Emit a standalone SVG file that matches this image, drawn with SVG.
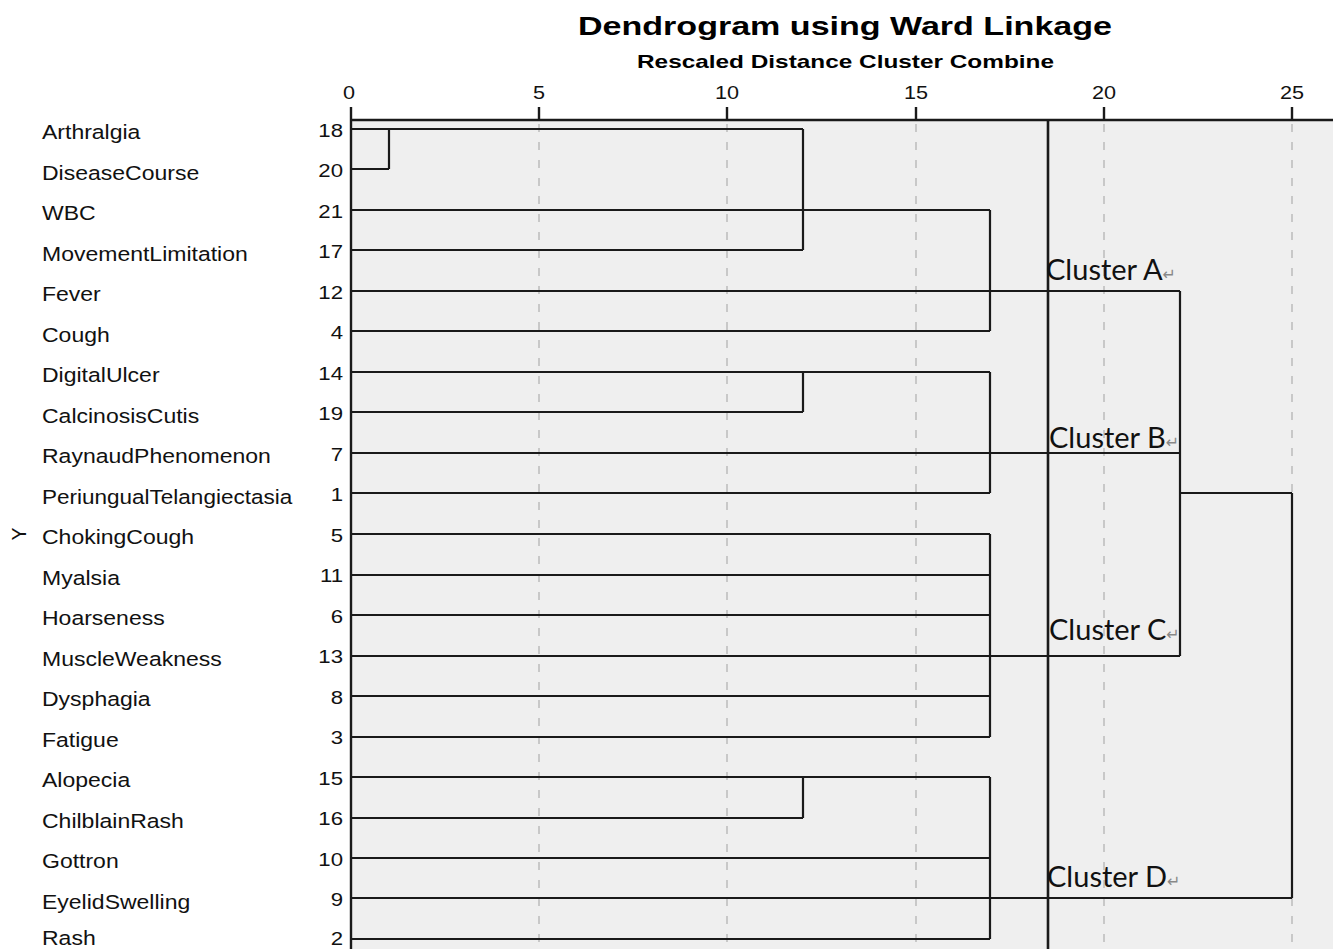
<svg xmlns="http://www.w3.org/2000/svg" width="1333" height="949" viewBox="0 0 1333 949">
<style>
.lbl{font-family:"Liberation Sans",Arial,sans-serif;font-size:19.5px;fill:#111}
.num{font-family:"Liberation Sans",Arial,sans-serif;font-size:18.5px;fill:#111;text-anchor:end}
.tick{font-family:"Liberation Sans",Arial,sans-serif;font-size:18.5px;fill:#111;text-anchor:middle}
.ttl{font-family:"Liberation Sans",Arial,sans-serif;font-weight:bold;fill:#000}
.cl{font-family:Lato,"Open Sans",sans-serif;font-size:29px;fill:#111}
.ret{font-family:"DejaVu Sans",sans-serif;font-size:16px;fill:#888}
.tree{fill:none;stroke:#1a1a1a;stroke-width:2.2}
.grid{stroke:#c8c8c8;stroke-width:2;stroke-dasharray:8 10}
</style>
<rect width="1333" height="949" fill="#fff"/>
<rect x="351" y="120" width="982" height="829" fill="#efefef"/>
<g id="grid">
<line class="grid" x1="539" y1="124" x2="539" y2="949"/>
<line class="grid" x1="727" y1="124" x2="727" y2="949"/>
<line class="grid" x1="916" y1="124" x2="916" y2="949"/>
<line class="grid" x1="1104" y1="124" x2="1104" y2="949"/>
<line class="grid" x1="1292" y1="124" x2="1292" y2="949"/>
</g>
<g id="title">
<text class="ttl" x="578" y="35" font-size="26" textLength="534" lengthAdjust="spacingAndGlyphs">Dendrogram using Ward Linkage</text>
<text class="ttl" x="637" y="68" font-size="19" textLength="417" lengthAdjust="spacingAndGlyphs">Rescaled Distance Cluster Combine</text>
</g>
<g id="axis">
<path d="M351 120H1333M351 107V949M539 107V120M727 107V120M916 107V120M1104 107V120M1292 107V120" fill="none" stroke="#1a1a1a" stroke-width="2.4"/>
<text class="tick" transform="translate(349,99) scale(1.17,1)">0</text>
<text class="tick" transform="translate(539,99) scale(1.17,1)">5</text>
<text class="tick" transform="translate(727,99) scale(1.17,1)">10</text>
<text class="tick" transform="translate(916,99) scale(1.17,1)">15</text>
<text class="tick" transform="translate(1104,99) scale(1.17,1)">20</text>
<text class="tick" transform="translate(1292,99) scale(1.17,1)">25</text>
<text class="lbl" font-size="18" transform="translate(26,534) rotate(-90)" text-anchor="middle">Y</text>
</g>
<g id="leaf-18"><text class="lbl" transform="translate(42,139) scale(1.18,1)">Arthralgia</text><text class="num" transform="translate(343,137) scale(1.2,1)">18</text></g>
<g id="leaf-20"><text class="lbl" transform="translate(42,180) scale(1.18,1)">DiseaseCourse</text><text class="num" transform="translate(343,177) scale(1.2,1)">20</text></g>
<g id="leaf-21"><text class="lbl" transform="translate(42,220) scale(1.18,1)">WBC</text><text class="num" transform="translate(343,218) scale(1.2,1)">21</text></g>
<g id="leaf-17"><text class="lbl" transform="translate(42,261) scale(1.18,1)">MovementLimitation</text><text class="num" transform="translate(343,258) scale(1.2,1)">17</text></g>
<g id="leaf-12"><text class="lbl" transform="translate(42,301) scale(1.18,1)">Fever</text><text class="num" transform="translate(343,299) scale(1.2,1)">12</text></g>
<g id="leaf-4"><text class="lbl" transform="translate(42,342) scale(1.18,1)">Cough</text><text class="num" transform="translate(343,339) scale(1.2,1)">4</text></g>
<g id="leaf-14"><text class="lbl" transform="translate(42,382) scale(1.18,1)">DigitalUlcer</text><text class="num" transform="translate(343,380) scale(1.2,1)">14</text></g>
<g id="leaf-19"><text class="lbl" transform="translate(42,423) scale(1.18,1)">CalcinosisCutis</text><text class="num" transform="translate(343,420) scale(1.2,1)">19</text></g>
<g id="leaf-7"><text class="lbl" transform="translate(42,463) scale(1.18,1)">RaynaudPhenomenon</text><text class="num" transform="translate(343,461) scale(1.2,1)">7</text></g>
<g id="leaf-1"><text class="lbl" transform="translate(42,504) scale(1.155,1)">PeriungualTelangiectasia</text><text class="num" transform="translate(343,501) scale(1.2,1)">1</text></g>
<g id="leaf-5"><text class="lbl" transform="translate(42,544) scale(1.18,1)">ChokingCough</text><text class="num" transform="translate(343,542) scale(1.2,1)">5</text></g>
<g id="leaf-11"><text class="lbl" transform="translate(42,585) scale(1.18,1)">Myalsia</text><text class="num" transform="translate(343,582) scale(1.2,1)">11</text></g>
<g id="leaf-6"><text class="lbl" transform="translate(42,625) scale(1.18,1)">Hoarseness</text><text class="num" transform="translate(343,623) scale(1.2,1)">6</text></g>
<g id="leaf-13"><text class="lbl" transform="translate(42,666) scale(1.18,1)">MuscleWeakness</text><text class="num" transform="translate(343,663) scale(1.2,1)">13</text></g>
<g id="leaf-8"><text class="lbl" transform="translate(42,706) scale(1.18,1)">Dysphagia</text><text class="num" transform="translate(343,704) scale(1.2,1)">8</text></g>
<g id="leaf-3"><text class="lbl" transform="translate(42,747) scale(1.18,1)">Fatigue</text><text class="num" transform="translate(343,744) scale(1.2,1)">3</text></g>
<g id="leaf-15"><text class="lbl" transform="translate(42,787) scale(1.18,1)">Alopecia</text><text class="num" transform="translate(343,785) scale(1.2,1)">15</text></g>
<g id="leaf-16"><text class="lbl" transform="translate(42,828) scale(1.18,1)">ChilblainRash</text><text class="num" transform="translate(343,825) scale(1.2,1)">16</text></g>
<g id="leaf-10"><text class="lbl" transform="translate(42,868) scale(1.18,1)">Gottron</text><text class="num" transform="translate(343,866) scale(1.2,1)">10</text></g>
<g id="leaf-9"><text class="lbl" transform="translate(42,909) scale(1.18,1)">EyelidSwelling</text><text class="num" transform="translate(343,906) scale(1.2,1)">9</text></g>
<g id="leaf-2"><text class="lbl" transform="translate(42,945) scale(1.18,1)">Rash</text><text class="num" transform="translate(343,945) scale(1.2,1)">2</text></g>
<g id="connectors">
<path class="tree" d="M351 129H803M351 169H389M389 129V169M351 210H990M351 250H803M803 129V250M351 291H1180M351 331H990M990 210V331"/>
<path class="tree" d="M351 372H990M351 412H803M803 372V412M351 453H1180M351 493H990M990 372V493"/>
<path class="tree" d="M351 534H990M351 575H990M351 615H990M351 656H1180M351 696H990M351 737H990M990 534V737"/>
<path class="tree" d="M351 777H990M351 818H803M803 777V818M351 858H990M351 898H1292M351 939H990M990 777V939"/>
<path class="tree" d="M1180 291V656M1180 493H1292M1292 493V898"/>
<line x1="1048" y1="120" x2="1048" y2="949" stroke="#1a1a1a" stroke-width="2.6"/>
</g>
<g id="cluster-A"><text class="cl" x="1046" y="280">Cluster A<tspan class="ret">↵</tspan></text></g>
<g id="cluster-B"><text class="cl" x="1049" y="448">Cluster B<tspan class="ret">↵</tspan></text></g>
<g id="cluster-C"><text class="cl" x="1049" y="640">Cluster C<tspan class="ret">↵</tspan></text></g>
<g id="cluster-D"><text class="cl" x="1047" y="887">Cluster D<tspan class="ret">↵</tspan></text></g>
</svg>
